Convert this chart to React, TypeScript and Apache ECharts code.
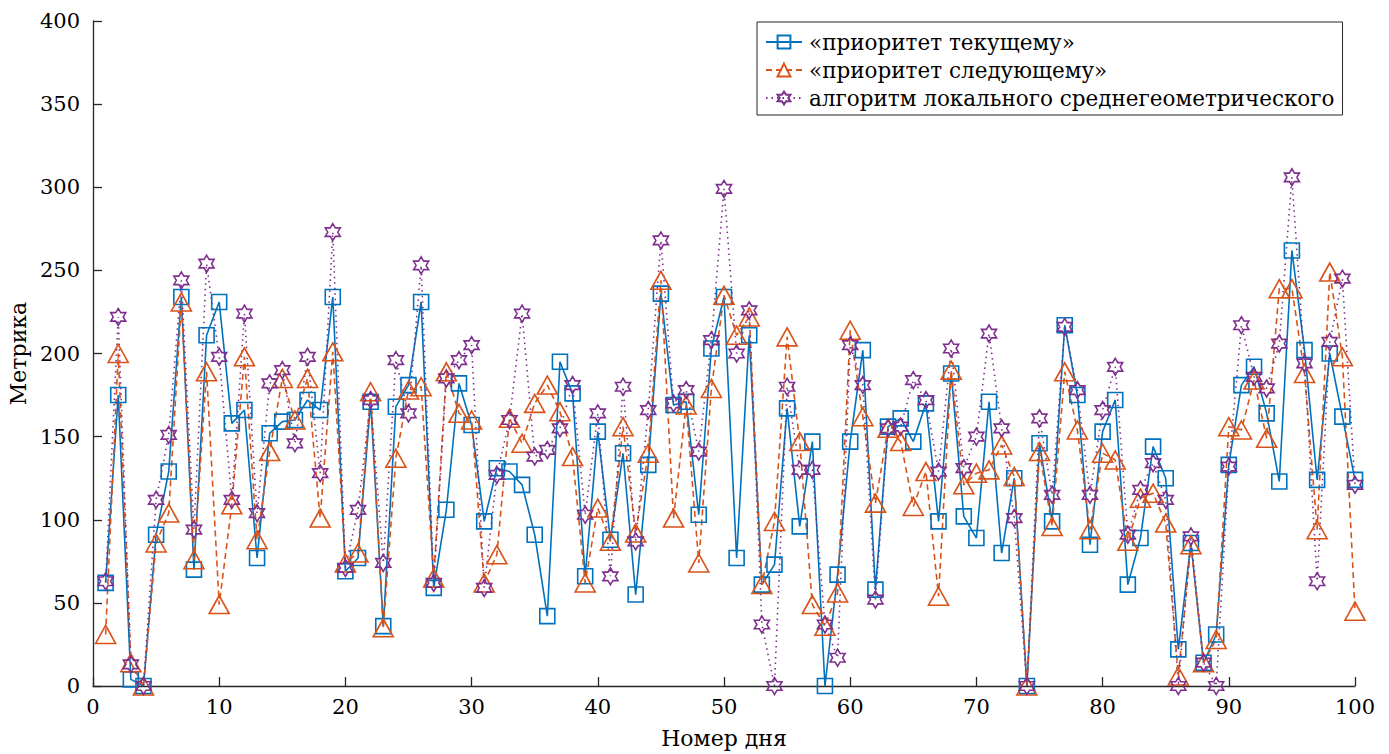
import React, { useEffect, useRef } from "react";
import * as echarts from "echarts";

const days: number[] = Array.from({ length: 100 }, (_, i) => i + 1);

const seriesNames = [
  "«приоритет текущему»",
  "«приоритет следующему»",
  "алгоритм локального среднегеометрического",
];

const currentPriority = [
  62, 175, 4, 0, 91, 129, 234, 70, 211, 231,
  158, 166, 77, 152, 159, 160, 172, 166, 234, 69,
  77, 171, 36, 168, 181, 231, 59, 106, 182, 157,
  99, 131, 129, 121, 91, 42, 195, 176, 66, 153,
  88, 140, 55, 133, 236, 169, 171, 103, 203, 234,
  77, 211, 61, 73, 167, 96, 147, 0, 67, 147,
  202, 58, 156, 161, 147, 170, 99, 188, 102, 89,
  171, 80, 125, 0, 146, 99, 217, 175, 85, 153,
  172, 61, 89, 144, 125, 22, 86, 14, 31, 133,
  181, 192, 164, 123, 262, 202, 124, 200, 162, 124,
];

const nextPriority = [
  31, 200, 14, 0, 86, 104, 231, 76, 189, 49,
  109, 198, 88, 141, 185, 160, 185, 101, 201, 74,
  80, 177, 35, 137, 178, 180, 65, 189, 164, 160,
  62, 79, 161, 146, 170, 181, 165, 138, 62, 107,
  87, 156, 92, 140, 244, 101, 169, 74, 179, 235,
  211, 222, 61, 99, 210, 147, 49, 36, 56, 214,
  162, 110, 155, 147, 108, 129, 54, 190, 121, 128,
  130, 145, 126, 0, 141, 96, 189, 154, 94, 140,
  136, 87, 113, 116, 98, 6, 85, 14, 28, 156,
  154, 184, 149, 239, 239, 188, 94, 249, 198, 45,
];

const localGeometric = [
  63, 222, 13, 0, 112, 151, 244, 94, 254, 198,
  112, 224, 104, 182, 190, 146, 198, 128, 273, 71,
  106, 172, 74, 196, 164, 253, 62, 185, 196, 205,
  59, 127, 160, 224, 138, 142, 155, 181, 103, 164,
  66, 180, 87, 166, 268, 170, 178, 141, 208, 299,
  200, 226, 37, 0, 180, 130, 130, 37, 17, 205,
  181, 52, 155, 156, 184, 172, 129, 203, 131, 150,
  212, 155, 101, 0, 161, 115, 216, 178, 115, 166,
  192, 91, 118, 134, 112, 0, 90, 14, 0, 132,
  217, 186, 179, 206, 306, 194, 63, 207, 245, 121,
];

const xTicks = { min: 0, max: 100, interval: 10 };
const yTicks = { min: 0, max: 400, interval: 50 };

function hexagramPath(): string {
  const pts: string[] = [];
  for (let k = 0; k < 12; k++) {
    const a = ((-90 + 30 * k) * Math.PI) / 180;
    const r = k % 2 === 0 ? 10 : 5.7735;
    const x = (r * Math.cos(a)).toFixed(3);
    const y = (r * Math.sin(a)).toFixed(3);
    pts.push((k === 0 ? "M" : "L") + x + " " + y);
  }
  return "path://" + pts.join(" ") + " Z";
}

const FONT = "DejaVu Serif";
const AXIS = "#262626";

export default function App() {
  const ref = useRef<HTMLDivElement>(null);

  useEffect(() => {
    document.body.style.margin = "0";
    if (!ref.current) return;
    const chart = echarts.init(ref.current, undefined, { renderer: "svg" });
    const toPairs = (vals: number[]) => days.map((d, i) => [d, vals[i]]);

    const mk = (
      name: string,
      vals: number[],
      color: string,
      type: any,
      symbol: string,
      symbolSize: any
    ) => ({
      name,
      type: "line",
      data: toPairs(vals),
      symbol,
      symbolSize,
      showSymbol: true,
      lineStyle: { color, width: 1.6, type },
      itemStyle: { color: "rgba(255,255,255,0)", borderColor: color, borderWidth: 1.6 },
      emphasis: { disabled: true },
      z: 3,
    });

    chart.setOption({
      animation: false,
      textStyle: { fontFamily: FONT },
      grid: { left: 93, right: 34, top: 21, bottom: 68, containLabel: false, outerBoundsMode: "none" },
      xAxis: {
        type: "value",
        min: xTicks.min,
        max: xTicks.max,
        interval: xTicks.interval,
        name: "Номер дня",
        nameLocation: "middle",
        nameGap: 41,
        nameTextStyle: { fontFamily: FONT, fontSize: 22, color: "#000" },
        axisLine: { show: true, lineStyle: { color: AXIS, width: 1.3 } },
        axisTick: { show: true, inside: true, length: 9, lineStyle: { color: AXIS, width: 1.3 } },
        axisLabel: { fontFamily: FONT, fontSize: 21, color: "#000", margin: 10 },
        splitLine: { show: false },
      },
      yAxis: {
        type: "value",
        min: yTicks.min,
        max: yTicks.max,
        interval: yTicks.interval,
        name: "Метрика",
        nameLocation: "middle",
        nameGap: 64,
        nameRotate: 90,
        nameTextStyle: { fontFamily: FONT, fontSize: 22, color: "#000" },
        axisLine: { show: true, lineStyle: { color: AXIS, width: 1.3 } },
        axisTick: { show: true, inside: true, length: 9, lineStyle: { color: AXIS, width: 1.3 } },
        axisLabel: { fontFamily: FONT, fontSize: 21, color: "#000", margin: 13 },
        splitLine: { show: false },
      },
      legend: {
        orient: "vertical",
        left: 757,
        top: 22,
        padding: [9, 8, 6, 8],
        itemGap: 6,
        itemWidth: 36,
        itemHeight: 16,
        backgroundColor: "#fff",
        borderColor: AXIS,
        borderWidth: 1,
        textStyle: { fontFamily: FONT, fontSize: 21.5, color: "#000", padding: [0, 0, 0, 2] },
        data: seriesNames,
      },
      series: [
        mk(seriesNames[0], currentPriority, "#0072BD", "solid", "rect", 15),
        mk(seriesNames[1], nextPriority, "#D95319", [6, 4], "triangle", [20, 18]),
        mk(seriesNames[2], localGeometric, "#7E2F8E", [1.5, 4], hexagramPath(), [15, 17]),
      ],
    });
    return () => chart.dispose();
  }, []);

  return <div ref={ref} style={{ width: 1389, height: 754 }} />;
}
